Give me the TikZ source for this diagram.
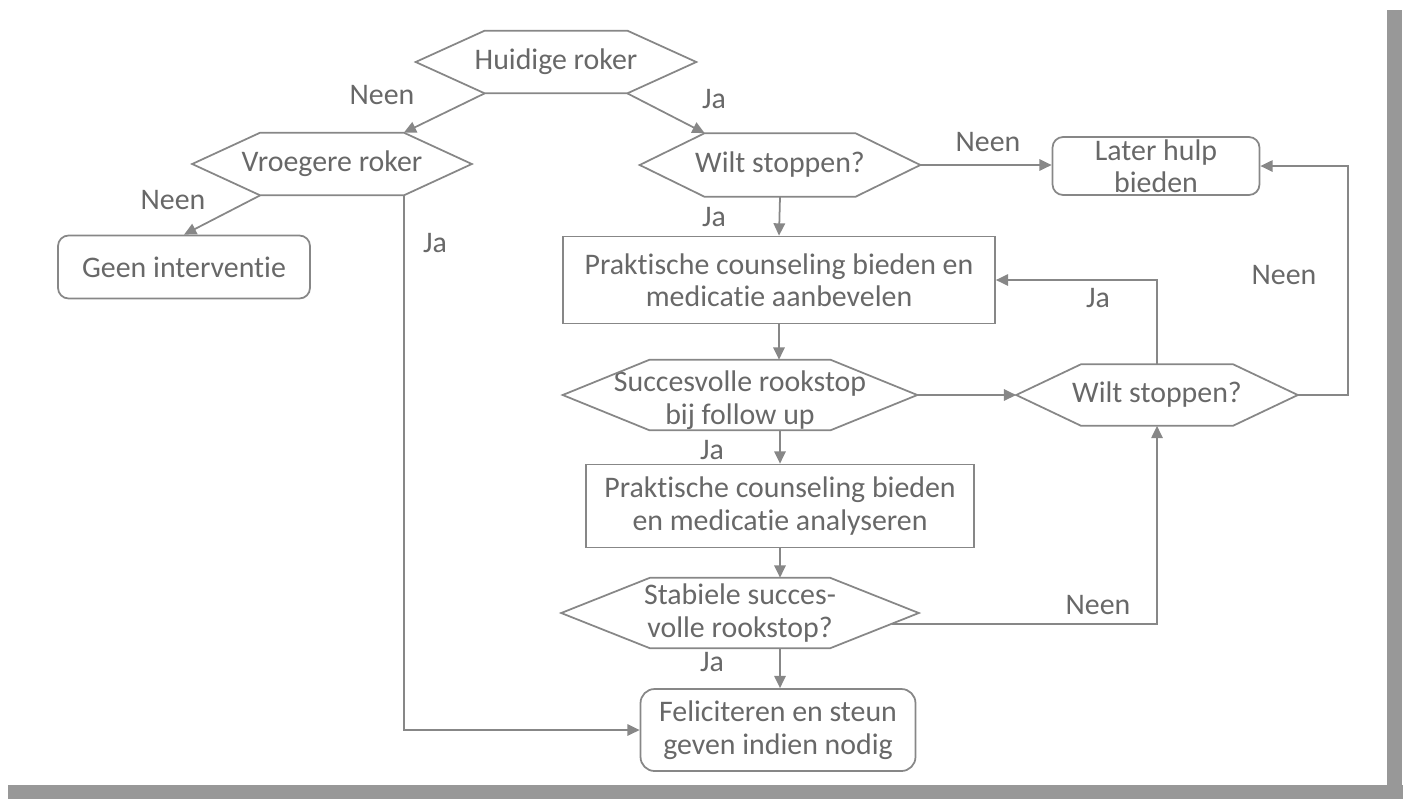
\documentclass[tikz,border=0pt]{standalone}
\usepackage{fontspec}
\setmainfont{Carlito}[Ligatures=NoCommon]
\usetikzlibrary{arrows.meta,calc}
\definecolor{inkgray}{RGB}{104,104,104}
\definecolor{linegray}{RGB}{135,135,135}
\definecolor{shadegray}{RGB}{152,152,152}
\newcommand\chartfont{\fontsize{17}{18.5}\selectfont}
\begin{document}
\begin{tikzpicture}[x=0.02cm, y={(0cm,-0.02cm)},
        box/.style={draw=linegray, line width=1pt, text=inkgray, font=\chartfont, align=center, inner sep=0pt},
        roundbox/.style={box, rounded corners=6pt},
        hexbox/.style={text=inkgray, font=\chartfont, align=center, inner sep=0pt},
        flow/.style={draw=linegray, line width=1pt, -{Triangle[length=7pt,width=6.5pt]}},
        answer/.style={text=inkgray, font=\chartfont}]
        \useasboundingbox (0,0) rectangle (1408,799);
        % paper edge
        \fill[shadegray] (8,785) rectangle (1403,799);
        \fill[shadegray] (1387,10) rectangle (1402,799);
        % decisions
        \node[hexbox, minimum width=5.6cm, minimum height=1.24cm] (hr) at (556,62) {Huidige roker};
        \node[hexbox, minimum width=5.58cm, minimum height=1.24cm] (vr) at (332,164) {Vroegere roker};
        \node[hexbox, minimum width=5.6cm, minimum height=1.26cm] (ws) at (780,165) {Wilt stoppen?};
        \node[hexbox, minimum width=7.08cm, minimum height=1.4cm] (sr) at (740,395) {\rule{0pt}{17.5pt}Succesvolle rookstop\\bij follow up};
        \node[hexbox, minimum width=5.62cm, minimum height=1.22cm] (wt) at (1157,395) {Wilt stoppen?};
        \node[hexbox, minimum width=7.14cm, minimum height=1.4cm] (st) at (740,613) {Stabiele succes-\\volle rookstop?};
        \foreach \n/\p in {hr/69, vr/68, ws/65, sr/87, wt/65, st/89}
            {%
            \draw[draw=linegray, line width=1pt]
                (\n.west) -- ([xshift=\p*0.02cm]\n.north west) coordinate (\n-nw)
                -- ([xshift=-\p*0.02cm]\n.north east) coordinate (\n-ne)
                -- (\n.east)
                -- ([xshift=-\p*0.02cm]\n.south east) coordinate (\n-se)
                -- ([xshift=\p*0.02cm]\n.south west) coordinate (\n-sw) -- cycle;
            }
        % actions
        \node[roundbox, minimum width=5.04cm, minimum height=1.26cm] (gi) at (184,267) {Geen interventie};
        \node[roundbox, minimum width=4.14cm, minimum height=1.16cm] (lh) at (1156,166) {Later hulp\\bieden};
        \node[box, minimum width=8.64cm, minimum height=1.74cm] (pa) at (779,280) {Praktische counseling bieden en\\medicatie aanbevelen};
        \node[box, minimum width=7.76cm, minimum height=1.66cm] (pb) at (780,506) {Praktische counseling bieden\\en medicatie analyseren};
        \node[roundbox, rounded corners=8pt, minimum width=5.5cm, minimum height=1.64cm] (fs) at (778,730) {Feliciteren en steun\\geven indien nodig};
        % connectors
        \draw[flow] (hr-sw) -- (vr-ne);
        \draw[flow] (hr-se) -- (ws-nw);
        \draw[flow] (vr-sw) -- (gi.north);
        \draw[flow] (vr-se) |- (fs.west);
        \draw[flow] (ws.south) -- (pa.north);
        \draw[flow] (ws.east) -- (ws.east -| lh.west);
        \draw[flow] (pa.south) -- (pa.south |- sr.north);
        \draw[flow] (sr.east) -- (wt.west);
        \draw[flow] (wt.north) |- (pa.east);
        \draw[flow] (wt.east) -- ++(50,0) |- (lh.east);
        \draw[flow] (pb.north |- sr.south) -- (pb.north);
        \draw[flow] (pb.south) -- (pb.south |- st.north);
        \draw[flow] ($(st.east)!0.3!(st-se)$) -| (wt.south);
        \draw[flow] (pb.south |- st.south) -- (pb.south |- fs.north);
        % answers
        \node[answer] (a1) at (382,95) {Neen};
        \node[answer] (a2) at (714,99) {Ja};
        \node[answer] (a3) at (173,200) {Neen};
        \node[answer] (a4) at (435,243) {Ja};
        \node[answer] (a5) at (714,217) {Ja};
        \node[answer] (a6) at (988,142) {Neen};
        \node[answer] (a7) at (1098,298) {Ja};
        \node[answer] (a8) at (1284,275) {Neen};
        \node[answer] (a9) at (712,450) {Ja};
        \node[answer] (a10) at (1098,605) {Neen};
        \node[answer] (a11) at (712,662) {Ja};
\end{tikzpicture}
\end{document}
